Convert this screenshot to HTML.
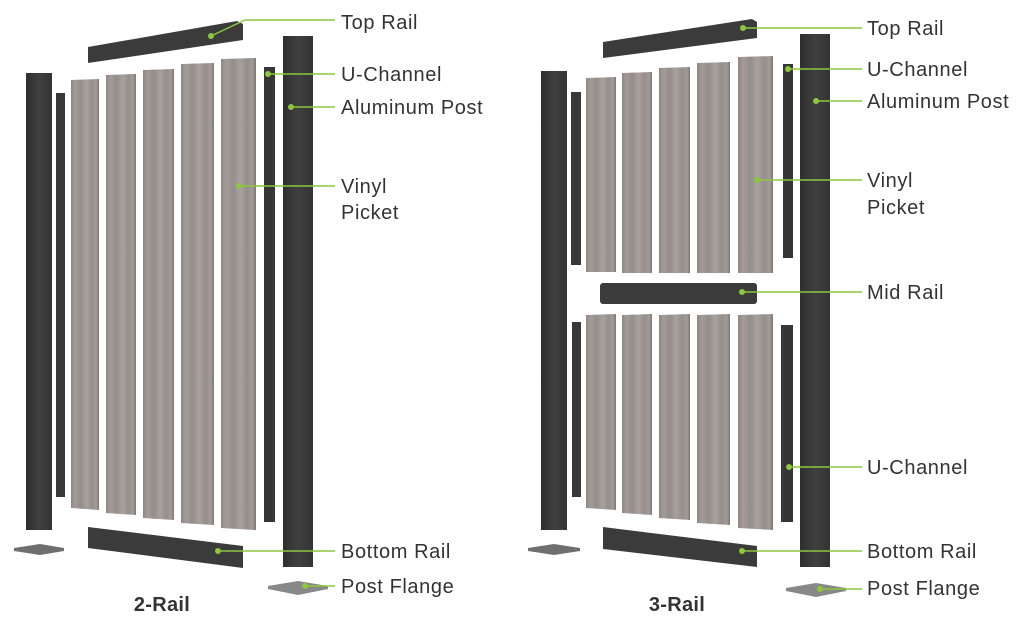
<!DOCTYPE html>
<html><head><meta charset="utf-8"><style>
html,body{margin:0;padding:0;background:#fff;width:1024px;height:629px;overflow:hidden}
svg text{font-family:"Liberation Sans",sans-serif;fill:#333;font-size:20px;letter-spacing:0.6px}
</style></head><body>
<svg width="1024" height="629" viewBox="0 0 1024 629" xmlns="http://www.w3.org/2000/svg">
<defs>
<linearGradient id="pk" x1="0" x2="1" y1="0" y2="0">
<stop offset="0" stop-color="#8e8783"/><stop offset="0.15" stop-color="#a39c98"/><stop offset="0.35" stop-color="#948d89"/><stop offset="0.55" stop-color="#a8a19d"/><stop offset="0.75" stop-color="#958e8a"/><stop offset="0.9" stop-color="#a29b97"/><stop offset="1" stop-color="#7d7773"/>
</linearGradient>
<linearGradient id="po" x1="0" x2="1"><stop offset="0" stop-color="#2e2e2e"/><stop offset="0.5" stop-color="#404040"/><stop offset="1" stop-color="#333"/></linearGradient>
</defs>

<!-- LEFT DIAGRAM -->
<polygon points="88,47 237,21 243,24 243,40 88,63" fill="#3b3b3b"/>
<rect x="26" y="73" width="26" height="457" fill="url(#po)"/>
<rect x="56" y="93" width="9" height="404" fill="#383838"/>
<polygon points="71,80 99,79 99,510 71,508" fill="url(#pk)"/>
<polygon points="106,75 136,74 136,515 106,513" fill="url(#pk)"/>
<polygon points="143,70 174,69 174,520 143,518" fill="url(#pk)"/>
<polygon points="181,64 214,63 214,525 181,523" fill="url(#pk)"/>
<polygon points="221,59 256,58 256,530 221,528" fill="url(#pk)"/>
<rect x="264" y="67" width="11" height="455" fill="#363636"/>
<rect x="283" y="36" width="30" height="531" fill="url(#po)"/>
<polygon points="88,527 243,546 243,568 88,548" fill="#3b3b3b"/>
<polygon points="14,548 40,544 64,548 64,551 40,555 14,551" fill="#6f6f6f"/>
<polygon points="268,586 298,581 328,586 328,589 298,595 268,589" fill="#888"/>
<g stroke="#8dc63f" stroke-width="1.5" fill="none">
<polyline points="211,36 245,20 335,20"/>
<line x1="268" y1="74" x2="335" y2="74"/>
<line x1="291" y1="107" x2="335" y2="107"/>
<line x1="239" y1="186" x2="335" y2="186"/>
<line x1="218" y1="551" x2="335" y2="551"/>
<line x1="305" y1="586" x2="335" y2="586"/>
</g>
<g fill="#8dc63f">
<circle cx="211" cy="36" r="3"/><circle cx="268" cy="74" r="3"/><circle cx="291" cy="107" r="3"/><circle cx="239" cy="186" r="3"/><circle cx="218" cy="551" r="3"/><circle cx="305" cy="586" r="3"/>
</g>
<text x="341" y="29">Top Rail</text>
<text x="341" y="81">U-Channel</text>
<text x="341" y="114">Aluminum Post</text>
<text x="341" y="193">Vinyl</text>
<text x="341" y="219">Picket</text>
<text x="341" y="558">Bottom Rail</text>
<text x="341" y="593">Post Flange</text>
<text x="162" y="611" text-anchor="middle" style="font-weight:bold;letter-spacing:0.3px">2-Rail</text>

<!-- RIGHT DIAGRAM -->
<polygon points="603,42 752,19 757,22 757,38 603,58" fill="#3b3b3b"/>
<rect x="541" y="71" width="26" height="459" fill="url(#po)"/>
<rect x="571" y="92" width="10" height="173" fill="#383838"/>
<rect x="572" y="322" width="9" height="175" fill="#383838"/>
<polygon points="586,78 616,77 616,272 586,272" fill="url(#pk)"/>
<polygon points="622,73 652,72 652,273 622,273" fill="url(#pk)"/>
<polygon points="659,68 690,67 690,273 659,273" fill="url(#pk)"/>
<polygon points="697,63 730,62 730,273 697,273" fill="url(#pk)"/>
<polygon points="738,57 773,56 773,273 738,273" fill="url(#pk)"/>
<polygon points="586,315 616,314 616,510 586,508" fill="url(#pk)"/>
<polygon points="622,315 652,314 652,515 622,513" fill="url(#pk)"/>
<polygon points="659,315 690,314 690,520 659,518" fill="url(#pk)"/>
<polygon points="697,315 730,314 730,525 697,523" fill="url(#pk)"/>
<polygon points="738,315 773,314 773,530 738,528" fill="url(#pk)"/>
<rect x="600" y="283" width="157" height="21" rx="3" fill="#3b3b3b"/>
<rect x="783" y="64" width="10" height="194" fill="#363636"/>
<rect x="781" y="325" width="12" height="197" fill="#363636"/>
<rect x="800" y="34" width="30" height="533" fill="url(#po)"/>
<polygon points="603,527 757,546 757,567 603,549" fill="#3b3b3b"/>
<polygon points="528,548 554,544 580,548 580,551 554,555 528,551" fill="#6f6f6f"/>
<polygon points="786,588 816,583 846,588 846,591 816,597 786,591" fill="#888"/>
<g stroke="#8dc63f" stroke-width="1.5" fill="none">
<line x1="743" y1="28" x2="862" y2="28"/>
<line x1="788" y1="69" x2="862" y2="69"/>
<line x1="816" y1="101" x2="862" y2="101"/>
<line x1="757" y1="180" x2="862" y2="180"/>
<line x1="742" y1="292" x2="862" y2="292"/>
<line x1="789" y1="467" x2="862" y2="467"/>
<line x1="742" y1="551" x2="862" y2="551"/>
<line x1="820" y1="589" x2="862" y2="589"/>
</g>
<g fill="#8dc63f">
<circle cx="743" cy="28" r="3"/><circle cx="788" cy="69" r="3"/><circle cx="816" cy="101" r="3"/><circle cx="757" cy="180" r="3"/><circle cx="742" cy="292" r="3"/><circle cx="789" cy="467" r="3"/><circle cx="742" cy="551" r="3"/><circle cx="820" cy="589" r="3"/>
</g>
<text x="867" y="35">Top Rail</text>
<text x="867" y="76">U-Channel</text>
<text x="867" y="108">Aluminum Post</text>
<text x="867" y="187">Vinyl</text>
<text x="867" y="214">Picket</text>
<text x="867" y="299">Mid Rail</text>
<text x="867" y="474">U-Channel</text>
<text x="867" y="558">Bottom Rail</text>
<text x="867" y="595">Post Flange</text>
<text x="677" y="611" text-anchor="middle" style="font-weight:bold;letter-spacing:0.3px">3-Rail</text>
</svg>
</body></html>
